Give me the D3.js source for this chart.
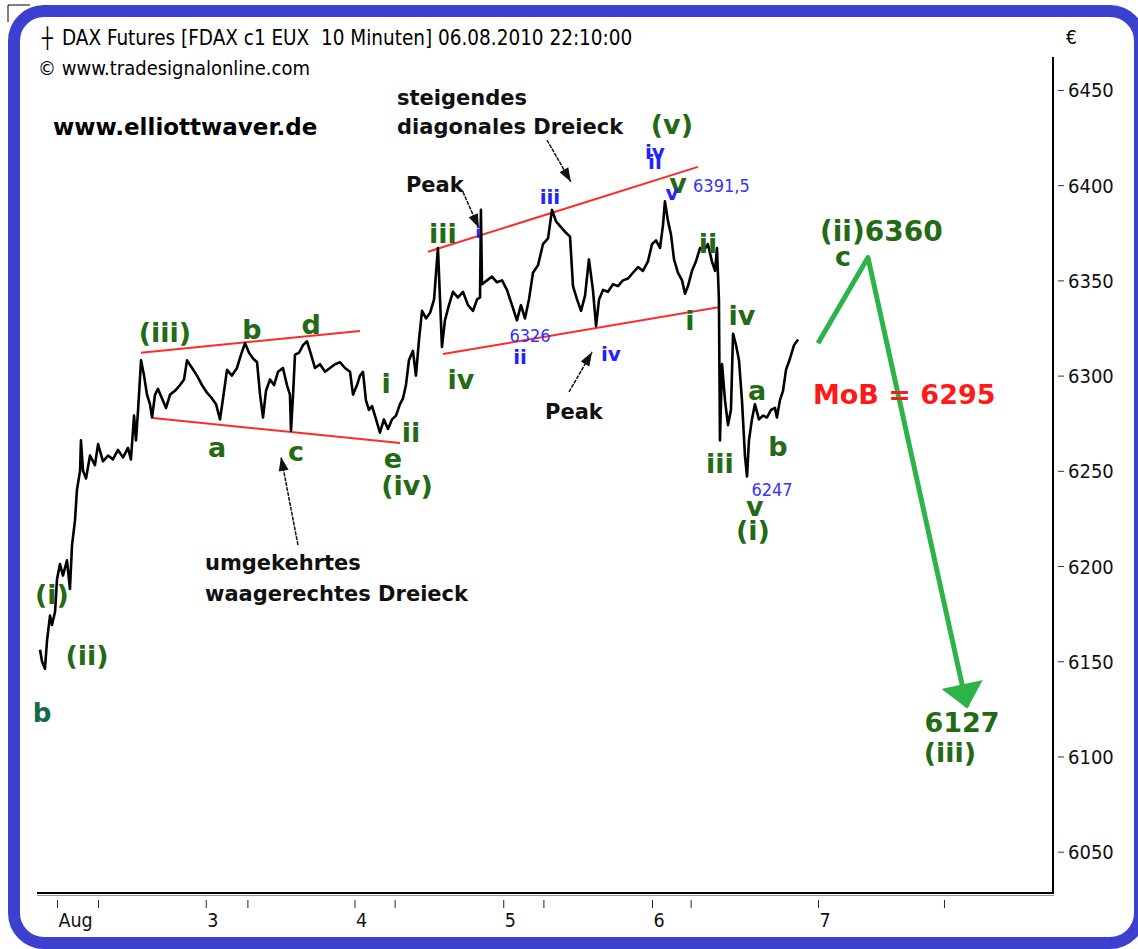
<!DOCTYPE html>
<html>
<head>
<meta charset="utf-8">
<title>DAX Futures 10 Minuten - Elliott</title>
<script src="https://d3js.org/d3.v7.min.js"></script>
<style>
  body { margin: 0; background: #fff; }
  svg { display: block; }
</style>
</head>
<body>
<svg id="chart" width="1138" height="949"></svg>
<script>
// price path, [day since Aug 2 (trading-day units), price]
const priceBars = [
  [-0.114,6156],[-0.101,6150],[-0.081,6146],[-0.067,6161],[-0.047,6174],[-0.034,6169],[-0.013,6176],
  [0.000,6193],[0.020,6201],[0.040,6195],[0.067,6203],[0.087,6188],[0.101,6211],[0.121,6224],[0.134,6240],[0.155,6250],
  [0.161,6266],[0.175,6250],[0.195,6246],[0.222,6258],[0.255,6253],[0.276,6264],[0.309,6255],[0.343,6258],[0.376,6256],
  [0.410,6261],[0.444,6257],[0.477,6262],[0.497,6256],
  [0.518,6279],[0.531,6266],[0.545,6282],[0.565,6308],[0.585,6300],[0.605,6290],[0.625,6285],[0.639,6278],[0.659,6290],
  [0.679,6293],[0.706,6288],[0.733,6283],[0.760,6290],[0.793,6292],[0.827,6295],[0.854,6298],
  [0.874,6308],[0.908,6304],[0.941,6300],[0.975,6295],[1.008,6291],[1.042,6288],[1.069,6285],[1.096,6277],[1.116,6288],
  [1.143,6303],[1.176,6300],[1.210,6304],[1.237,6311],[1.264,6317],[1.291,6312],[1.318,6309],[1.345,6307],
  [1.365,6290],[1.385,6278],[1.405,6292],[1.432,6298],[1.459,6295],[1.486,6302],[1.519,6304],[1.546,6295],[1.566,6290],
  [1.573,6271],[1.587,6290],[1.600,6311],[1.627,6312],[1.654,6316],[1.681,6318],[1.708,6311],[1.734,6304],[1.768,6306],
  [1.802,6302],[1.835,6304],[1.869,6306],[1.903,6307],[1.936,6304],[1.970,6302],
  [1.990,6290],[2.017,6295],[2.037,6300],[2.057,6302],[2.077,6287],[2.097,6282],[2.118,6284],[2.145,6277],[2.171,6270],
  [2.198,6277],[2.225,6272],[2.252,6277],[2.279,6279],[2.306,6285],[2.326,6288],[2.346,6295],[2.366,6308],[2.393,6313],
  [2.413,6300],[2.434,6319],[2.454,6334],[2.481,6330],[2.508,6333],[2.535,6340],
  [2.555,6361],[2.561,6367],[2.575,6340],[2.588,6315],[2.608,6329],[2.635,6337],[2.662,6344],[2.696,6341],[2.729,6344],
  [2.763,6337],[2.797,6334],[2.824,6340],[2.844,6341],
  [2.850,6387],[2.857,6348],[2.891,6350],[2.924,6352],[2.958,6349],[2.992,6350],[3.025,6345],[3.059,6337],[3.092,6329],
  [3.119,6337],[3.146,6330],[3.173,6340],
  [3.200,6354],[3.234,6358],[3.267,6369],[3.301,6372],[3.328,6387],[3.355,6381],[3.388,6378],[3.422,6375],[3.449,6373],
  [3.469,6347],[3.496,6340],[3.523,6334],[3.550,6342],[3.576,6361],[3.603,6345],
  [3.624,6326],[3.644,6340],[3.671,6345],[3.704,6344],[3.738,6348],[3.771,6347],[3.805,6350],[3.839,6351],[3.872,6354],
  [3.906,6357],[3.939,6355],[3.973,6360],
  [4.000,6369],[4.027,6371],[4.054,6367],[4.074,6379],[4.087,6391.5],[4.108,6381],[4.128,6374],[4.148,6361],[4.175,6354],
  [4.202,6350],[4.222,6343],[4.242,6347],[4.269,6355],[4.296,6360],[4.323,6367],[4.350,6366],[4.376,6369],[4.403,6360],
  [4.424,6355],[4.437,6367],[4.450,6340],[4.457,6266],[4.471,6306],[4.491,6287],[4.511,6274],[4.531,6282],[4.545,6322],
  [4.565,6316],[4.585,6308],[4.605,6287],[4.625,6258],[4.639,6247],[4.652,6266],[4.672,6277],[4.692,6285],[4.719,6277],
  [4.746,6279],[4.773,6278],[4.800,6282],[4.827,6283],[4.840,6278],[4.860,6287],[4.881,6292],[4.901,6303],[4.928,6309],
  [4.955,6316],[4.982,6319]
];

const priceTicks = [6050, 6100, 6150, 6200, 6250, 6300, 6350, 6400, 6450];
const dayTicks = [0, 1, 2, 3, 4, 5.116];
const dayLabels = ["Aug", "3", "4", "5", "6", "7"];
const midDayTicks = [0.276, 1.28, 2.27, 3.27, 4.26, 5.963];

// trend lines
const triangleTop = [[0.565, 6312], [2.037, 6323.4]];
const triangleBottom = [[0.645, 6277.7], [2.306, 6264.6]];
const diagonalTop = [[2.494, 6365], [4.309, 6409.6]];
const diagonalBottom = [[2.595, 6311.3], [4.457, 6336]];

// forecast path
const projection = [[5.116, 6317], [5.452, 6362], [6.118, 6126]];

// wave counts [text, day, price]
const greenLabels = [
  ["(i)", -0.034, 6185], ["(ii)", 0.202, 6153], ["(iii)", 0.726, 6322.4],
  ["a", 1.076, 6262], ["b", 1.311, 6324], ["c", 1.607, 6260], ["d", 1.708, 6326.6],
  ["i", 2.212, 6296], ["ii", 2.38, 6270], ["e", 2.259, 6256.7], ["(iv)", 2.353, 6242.5],
  ["iii", 2.595, 6374.4], ["iv", 2.716, 6297.7], ["(v)", 4.134, 6432], ["v", 4.175, 6401],
  ["ii", 4.376, 6369.6], ["i", 4.255, 6329], ["iv", 4.605, 6331.3], ["iii", 4.457, 6253.6],
  ["a", 4.706, 6292.4], ["b", 4.847, 6263], ["v", 4.692, 6231], ["(i)", 4.679, 6218.4],
  ["c", 5.284, 6362.5], ["6127", 6.084, 6118], ["(iii)", 6.003, 6102.3]
];
const tealLabels = [["b", -0.101, 6122.8]];
const blueLabels = [
  ["iv", 4.02, 6417.4], ["ii", 4.02, 6412.2], ["v", 4.134, 6396],
  ["iii", 3.314, 6393.8], ["ii", 3.113, 6309.8], ["iv", 3.724, 6311.3]
];
const blueSmall = [["i", 2.83, 6375]];
const blueValues = [["6326", 3.18, 6320.8], ["6247", 4.807, 6240]];
const blueValuesLeft = [["6391,5", 4.276, 6400]];
const targetLabel = ["(ii)6360", 5.129, 6375.8];
const mobLabel = ["MoB = 6295", 5.082, 6290.3];

const notes = [
  ["steigendes", 2.286, 6445.8], ["diagonales Dreieck", 2.286, 6430.6],
  ["Peak", 2.346, 6400], ["Peak", 3.281, 6281],
  ["umgekehrtes", 0.995, 6201.6], ["waagerechtes Dreieck", 0.995, 6185.3]
];
const noteArrows = [
  [[2.729, 6396.4], [2.837, 6377.5]],
  [[3.294, 6423.7], [3.455, 6401.7]],
  [[3.442, 6291.4], [3.597, 6312.4]],
  [[1.62, 6211], [1.506, 6257.3]]
];

const COND = "'DejaVu Sans Condensed','DejaVu Sans',sans-serif";
const BOLD = "'DejaVu Sans',Verdana,sans-serif";
const GREEN = "#236a14";
const BLUE = "#2222ff";

const svg = d3.select("#chart");

const x = d3.scaleLinear().domain([-0.1345, 6.696]).range([37, 1053]);
const y = d3.scaleLinear().domain([6028.3, 6467.3]).range([893, 57]);

// window frame
svg.append("rect")
  .attr("x", 14).attr("y", 11).attr("width", 1126).attr("height", 932)
  .attr("rx", 30).attr("fill", "#fff")
  .attr("stroke", "#3b40cf").attr("stroke-width", 12);
svg.append("path").attr("d", "M8,22V5H30").attr("fill", "none").attr("stroke", "#000");

// header
svg.append("text").attr("x", 42).attr("y", 38).attr("dominant-baseline", "central")
  .style("font-family", COND).style("font-size", "20px").text("┼");
svg.append("text").attr("x", 62).attr("y", 38).attr("dominant-baseline", "central")
  .style("font-family", COND).style("font-size", "20.5px").style("white-space", "pre")
  .text("DAX Futures [FDAX c1 EUX  10 Minuten] 06.08.2010 22:10:00");
svg.append("text").attr("x", 38).attr("y", 68).attr("dominant-baseline", "central")
  .style("font-family", COND).style("font-size", "20px")
  .text("© www.tradesignalonline.com");
svg.append("text").attr("x", 1066).attr("y", 37).attr("dominant-baseline", "central")
  .style("font-family", COND).style("font-size", "19px").text("€");
svg.append("text").attr("x", 53).attr("y", 127).attr("dominant-baseline", "central")
  .style("font-family", BOLD).style("font-weight", "bold").style("font-size", "23px")
  .text("www.elliottwaver.de");

// axes
const yAxis = d3.axisRight(y).tickValues(priceTicks).tickSize(6).tickPadding(4)
  .tickFormat(d3.format("d"));
const gy = svg.append("g").attr("transform", "translate(1058,0)").call(yAxis);
gy.select(".domain").remove();
gy.selectAll(".tick line").attr("stroke", "#333");
gy.selectAll(".tick text").attr("dy", null).attr("dominant-baseline", "central")
  .attr("fill", "#111").style("font-family", COND).style("font-size", "20px");

const xAxis = d3.axisBottom(x).tickValues(dayTicks.concat(midDayTicks)).tickSize(8)
  .tickFormat(d => { const i = dayTicks.indexOf(d); return i >= 0 ? dayLabels[i] : ""; });
const gx = svg.append("g").attr("transform", "translate(0,900)").call(xAxis);
gx.select(".domain").remove();
gx.selectAll(".tick line").attr("stroke", "#222");
gx.selectAll(".tick text").attr("text-anchor", "start").attr("x", 1).attr("y", 20)
  .attr("dy", null).attr("dominant-baseline", "central")
  .attr("fill", "#111").style("font-family", COND).style("font-size", "19.5px");

svg.append("line").attr("x1", 37).attr("x2", 1054).attr("y1", 895.5).attr("y2", 895.5)
  .attr("stroke", "#999").attr("stroke-width", 1.2);
svg.append("line").attr("x1", 37).attr("x2", 1054).attr("y1", y.range()[0]).attr("y2", y.range()[0])
  .attr("stroke", "#000").attr("stroke-width", 2);
svg.append("line").attr("x1", 1053).attr("x2", 1053).attr("y1", y.range()[1]).attr("y2", y.range()[0])
  .attr("stroke", "#000").attr("stroke-width", 2);

const line = d3.line().x(d => x(d[0])).y(d => y(d[1]));

// trend lines
[triangleTop, triangleBottom, diagonalTop, diagonalBottom].forEach(t => {
  svg.append("path").attr("d", line(t)).attr("fill", "none")
    .attr("stroke", "#ff2a2a").attr("stroke-width", 2);
});

// price
svg.append("path").datum(priceBars).attr("d", line).attr("fill", "none")
  .attr("stroke", "#000").attr("stroke-width", 2.6).attr("stroke-linejoin", "round");

// arrow head helper
function head(p0, p1, len, half) {
  const x0 = x(p0[0]), y0 = y(p0[1]), x1 = x(p1[0]), y1 = y(p1[1]);
  const L = Math.hypot(x1 - x0, y1 - y0), ux = (x1 - x0) / L, uy = (y1 - y0) / L;
  const bx = x1 - ux * len, by = y1 - uy * len;
  return `M${x1},${y1}L${bx - uy * half},${by + ux * half}L${bx + uy * half},${by - ux * half}Z`;
}

// projection
svg.append("path").attr("d", line(projection)).attr("fill", "none")
  .attr("stroke", "#2db34a").attr("stroke-width", 5).attr("stroke-linejoin", "round");
svg.append("path").attr("d", head(projection[1], projection[2], 22, 19))
  .attr("fill", "#2db34a").attr("stroke", "#2db34a").attr("stroke-width", 2);

// note arrows
noteArrows.forEach(a => {
  svg.append("path").attr("d", line(a)).attr("stroke", "#111").attr("stroke-width", 1.5)
    .attr("stroke-dasharray", "4,1");
  svg.append("path").attr("d", head(a[0], a[1], 14, 5)).attr("fill", "#111");
});

function labels(data, opts) {
  svg.append("g").selectAll("text").data(data).join("text")
    .attr("x", d => x(d[1])).attr("y", d => y(d[2]))
    .attr("text-anchor", opts.anchor || "middle").attr("dominant-baseline", "central")
    .attr("fill", opts.color)
    .style("font-family", opts.family).style("font-weight", opts.weight || "normal")
    .style("font-size", opts.size + "px")
    .text(d => d[0]);
}

labels(greenLabels, { color: GREEN, family: BOLD, weight: "bold", size: 27 });
labels(tealLabels, { color: "#126a4a", family: BOLD, weight: "bold", size: 26 });
labels([targetLabel], { color: GREEN, family: BOLD, weight: "bold", size: 28, anchor: "start" });
labels([mobLabel], { color: "#ff1a1a", family: BOLD, weight: "bold", size: 27, anchor: "start" });
labels(blueLabels, { color: BLUE, family: BOLD, weight: "bold", size: 20 });
labels(blueSmall, { color: BLUE, family: BOLD, weight: "bold", size: 15 });
labels(blueValues, { color: "#3434ff", family: COND, size: 18 });
labels(blueValuesLeft, { color: "#3434ff", family: COND, size: 18, anchor: "start" });
labels(notes, { color: "#111", family: BOLD, weight: "bold", size: 21, anchor: "start" });
</script>
</body>
</html>
